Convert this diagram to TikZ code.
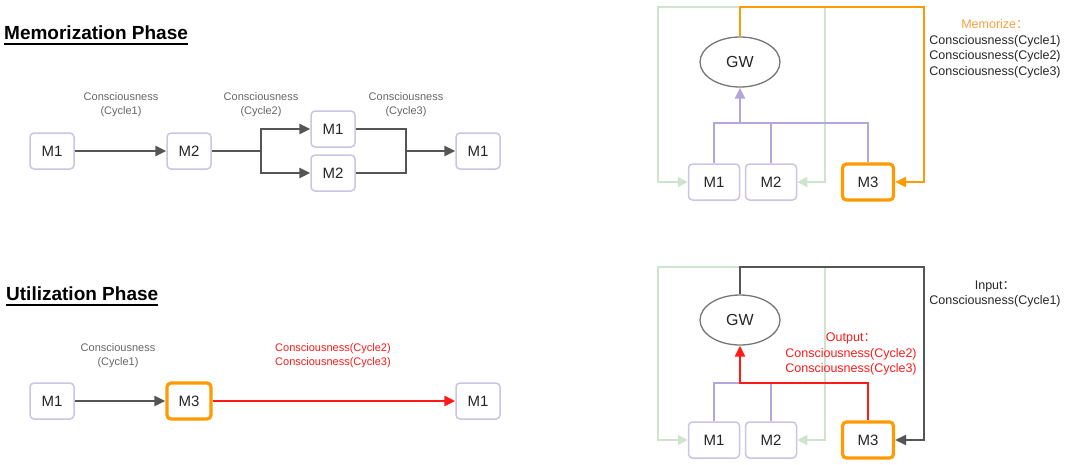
\documentclass[tikz,border=0pt]{standalone}
\usepackage{fontspec}
\setmainfont{Liberation Sans}
\newfontfamily\cjk{Noto Sans CJK SC}
\usepackage{xcolor}
\usepackage{tikz}
\usetikzlibrary{arrows.meta,calc,shapes.geometric}
\definecolor{boxline}{HTML}{CCC3E6}
\definecolor{flowgray}{HTML}{555555}
\definecolor{hotorange}{HTML}{FF9A00}
\definecolor{memorange}{HTML}{F5A040}
\definecolor{outred}{HTML}{FF1A1A}
\definecolor{backgreen}{HTML}{CFE4CF}
\definecolor{treepurple}{HTML}{B5A6D9}
\definecolor{textdark}{HTML}{262626}
\definecolor{labelgray}{HTML}{666666}
\newcommand{\fcolon}{{\cjk ：}}

\begin{document}
\begin{tikzpicture}[x=1pt,y=-1pt,
    box/.style={draw=boxline,line width=1.5pt,rounded corners=4pt,fill=white,
        minimum width=44pt,minimum height=36pt,text=textdark,font=\fontsize{15}{17}\selectfont},
    hot/.style={box,draw=hotorange,line width=3.2pt},
    gwnode/.style={ellipse,draw=flowgray!80,line width=1.3pt,fill=white,
        minimum width=80pt,minimum height=50pt,text=textdark,font=\fontsize{16}{18}\selectfont},
    title/.style={anchor=west,inner sep=0pt,font=\fontsize{19}{22}\selectfont\bfseries},
    flowlabel/.style={align=center,text=labelgray,font=\fontsize{11}{14}\selectfont},
    note/.style={align=center,text=textdark,font=\fontsize{12.5}{15.5}\selectfont},
    >={Triangle[length=11pt,width=10pt]}]
    \useasboundingbox (0,0) rectangle (1065,464);
    \node[title] (memo) at (4,33) {Memorization Phase};
    \node[title] (util) at (6,294) {Utilization Phase};
    \draw[line width=1.8pt] ($(memo.base west)+(0,4)$) -- ($(memo.base east)+(0,4)$);
    \draw[line width=1.8pt] ($(util.base west)+(0,4)$) -- ($(util.base east)+(0,4)$);
    \node[box] (a1) at (52,151) {M1};
    \node[box] (a2) at (189,151) {M2};
    \node[box] (a3) at (333,129) {M1};
    \node[box] (a4) at (333,173) {M2};
    \node[box] (a5) at (478,151) {M1};
    \coordinate (s1) at (261,151);
    \coordinate (s2) at (406,151);
    \node[flowlabel] (l1) at (121,105) {Consciousness\\(Cycle1)};
    \node[flowlabel] (l2) at (261,105) {Consciousness\\(Cycle2)};
    \node[flowlabel] (l3) at (406,105) {Consciousness\\(Cycle3)};
    \begin{scope}[draw=flowgray,line width=2.6pt]
        \draw[->] (a1) -- (a2);
        \draw (a2) -- (s1);
        \draw[->] (s1) |- (a3);
        \draw[->] (s1) |- (a4);
        \draw (a3) -| (s2);
        \draw (a4) -| (s2);
        \draw[->] (s2) -- (a5);
    \end{scope}
    \node[box] (d1) at (52,401) {M1};
    \node[hot] (d3) at (189,401) {M3};
    \node[box] (d5) at (478,401) {M1};
    \node[flowlabel] (l4) at (118,356) {Consciousness\\(Cycle1)};
    \node[flowlabel,text=outred] (l5) at (333,356) {Consciousness(Cycle2)\\Consciousness(Cycle3)};
    \draw[->,draw=flowgray,line width=2.6pt] (d1) -- (d3);
    \draw[->,draw=outred,line width=2.6pt] (d3) -- (d5);
    \node[gwnode] (g1) at (740,62) {GW};
    \node[box,minimum width=51pt] (b1) at (714,182) {M1};
    \node[box,minimum width=51pt] (b2) at (771,182) {M2};
    \node[hot,minimum width=51pt] (b3) at (868,182) {M3};
    \coordinate (gl1) at (658,7);
    \coordinate (gr1) at (825,7);
    \coordinate (o1) at (924,7);
    \coordinate (j1) at (740,123);
    \begin{scope}[draw=backgreen,line width=2pt,>={Triangle[length=10pt,width=10pt]}]
        \draw[->] (g1) |- (gl1) |- (b1);
        \draw[->] (g1) |- (gr1) |- (b2);
    \end{scope}
    \begin{scope}[draw=treepurple,line width=2.6pt]
        \draw (b1) |- (j1);
        \draw (b2) |- (j1);
        \draw (b3) |- (j1);
        \draw[->] (j1) -- (g1);
    \end{scope}
    \draw[->,draw=hotorange,line width=2.6pt] (g1) |- (o1) |- (b3);
    \node[note] (t1) at (995,49) {{\color{memorange}Memorize\fcolon}\\Consciousness(Cycle1)\\Consciousness(Cycle2)\\Consciousness(Cycle3)};
    \node[gwnode] (g2) at (740,320) {GW};
    \node[box,minimum width=51pt] (c1) at (714,440) {M1};
    \node[box,minimum width=51pt] (c2) at (771,440) {M2};
    \node[hot,minimum width=51pt] (c3) at (868,440) {M3};
    \coordinate (gl2) at (658,267);
    \coordinate (gr2) at (825,267);
    \coordinate (i1) at (924,267);
    \coordinate (j2) at (740,383);
    \begin{scope}[draw=backgreen,line width=2pt,>={Triangle[length=10pt,width=10pt]}]
        \draw[->] (g2) |- (gl2) |- (c1);
        \draw[->] (g2) |- (gr2) |- (c2);
    \end{scope}
    \begin{scope}[draw=treepurple,line width=2.6pt]
        \draw (c1) |- (j2);
        \draw (c2) |- (j2);
    \end{scope}
    \draw[->,draw=flowgray,line width=2.6pt] (g2) |- (i1) |- (c3);
    \draw[->,draw=outred,line width=2.6pt] (c3) |- (j2) -- (g2);
    \node[note,text=outred] (t2) at (851,354) {Output\fcolon\\Consciousness(Cycle2)\\Consciousness(Cycle3)};
    \node[note] (t3) at (995,294) {Input\fcolon\\Consciousness(Cycle1)};
\end{tikzpicture}
\end{document}
